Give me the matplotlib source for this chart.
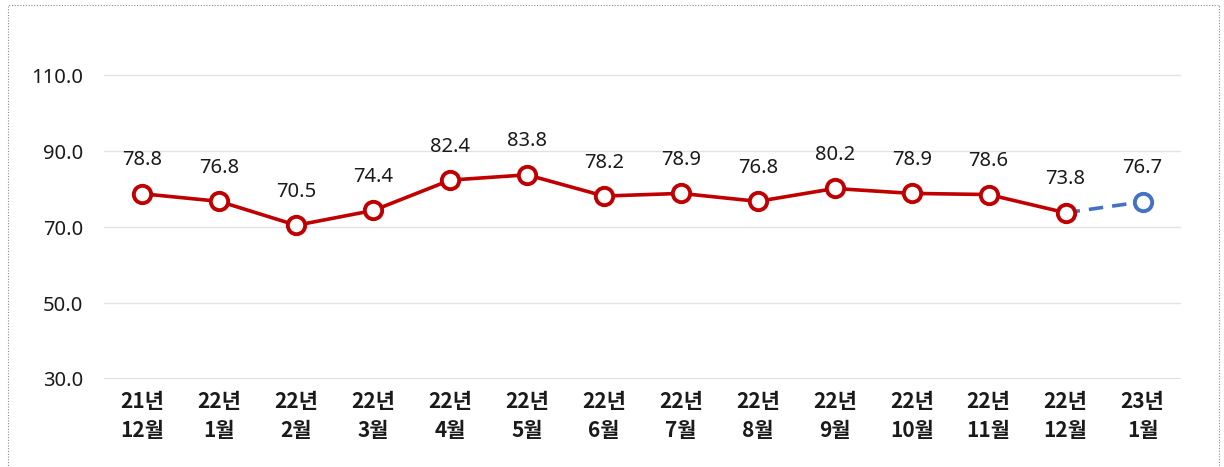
import numpy as np
import matplotlib.pyplot as plt
from matplotlib.patches import Rectangle

plt.rcParams['font.family'] = ['Noto Sans', 'Noto Sans CJK KR', 'DejaVu Sans']

# 데이터
months = ['21년\n12월', '22년\n1월', '22년\n2월', '22년\n3월', '22년\n4월', '22년\n5월',
          '22년\n6월', '22년\n7월', '22년\n8월', '22년\n9월', '22년\n10월', '22년\n11월',
          '22년\n12월', '23년\n1월']
values = [78.8, 76.8, 70.5, 74.4, 82.4, 83.8, 78.2, 78.9, 76.8, 80.2, 78.9, 78.6, 73.8, 76.7]
yticks = [30, 50, 70, 90, 110]

red = '#C00000'
blue = '#4472C4'

fig = plt.figure(figsize=(12.24, 4.67), dpi=100)
ax = fig.add_axes([104 / 1224, 88 / 467, 1077 / 1224, 334 / 467])

x = np.arange(len(values))
n_act = len(values) - 1

# 실적 (빨간 실선)
ax.plot(x[:n_act], values[:n_act], color=red, lw=2.6, marker='o', ms=12.5,
        mfc='white', mec=red, mew=2.8, zorder=3)
# 전망 (파란 점선)
ax.plot(x[n_act - 1:], values[n_act - 1:], color=blue, lw=2.6, ls=(0, (4, 2.5)), zorder=2)
ax.plot(x[-1:], values[-1:], ls='none', marker='o', ms=12.5, mfc='white', mec=blue,
        mew=2.8, zorder=3)

for xi, v in zip(x, values):
    ax.annotate(f'{v:.1f}', (xi, v), xytext=(0, 24), textcoords='offset points',
                ha='center', va='center', fontsize=14.5, color='#1a1a1a')

ax.set_xlim(-0.5, len(values) - 0.5)
ax.set_ylim(30, 118)
ax.set_yticks(yticks)
ax.set_yticklabels([f'{t:.1f}' for t in yticks], fontsize=14.5, color='#1a1a1a')
ax.set_xticks(x)
ax.set_xticklabels(months, fontsize=15, fontweight='bold', color='#1a1a1a',
                   family=['Noto Sans CJK KR', 'DejaVu Sans'], linespacing=1.45)
ax.tick_params(length=0, axis='y', pad=15)
ax.tick_params(length=0, axis='x', pad=9)
ax.grid(axis='y', color='#e3e3e3', lw=1)
ax.set_axisbelow(True)
for s in ax.spines.values():
    s.set_visible(False)
ax.axhline(30, color='#d9d9d9', lw=1.2, zorder=1)

# 점선 테두리
fig.patches.append(Rectangle((8 / 1224, -0.05), 1211 / 1224, 1 - 5 / 467 + 0.05,
                             transform=fig.transFigure, fill=False,
                             ec='#8c8c8c', lw=0.8, ls=(0, (1, 1.5))))

fig.savefig('out.png', dpi=100)
